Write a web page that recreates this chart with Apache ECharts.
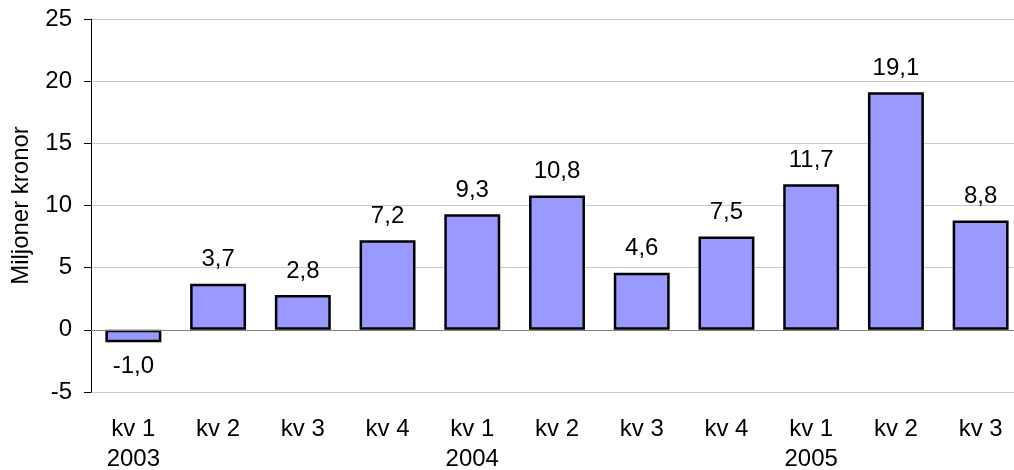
<!DOCTYPE html>
<html>
<head>
<meta charset="utf-8">
<script src="https://cdn.jsdelivr.net/npm/echarts@6/dist/echarts.min.js"></script>
<style>
html,body{margin:0;padding:0;background:#fff;}
#chart{width:1014px;height:470px;}
</style>
</head>
<body>
<div id="chart"></div>
<script>
var quarters = ['kv 1','kv 2','kv 3','kv 4','kv 1','kv 2','kv 3','kv 4','kv 1','kv 2','kv 3'];
var years = ['2003','','','','2004','','','','2005','',''];
var values = [-1.0, 3.7, 2.8, 7.2, 9.3, 10.8, 4.6, 7.5, 11.7, 19.1, 8.8];
var yTicks = [-5, 0, 5, 10, 15, 20, 25];
var yAxisTitle = 'Miljoner kronor';

var categories = quarters.map(function (q, i) { return years[i] ? q + '\n' + years[i] : q; });
var FONT = '"Liberation Sans", Arial, sans-serif';

var chart = echarts.init(document.getElementById('chart'), null, {renderer: 'canvas'});
chart.setOption({
  animation: false,
  backgroundColor: '#ffffff',
  grid: {left: 91, top: 19, width: 932, height: 373, containLabel: false, outerBoundsMode: 'none'},
  xAxis: {
    type: 'category',
    data: categories,
    position: 'bottom',
    axisLine: {show: false, onZero: false},
    axisTick: {show: false},
    splitLine: {show: false},
    axisLabel: {
      color: '#000', fontFamily: FONT, fontSize: 24, lineHeight: 30, margin: 22, interval: 0
    }
  },
  yAxis: {
    type: 'value',
    min: yTicks[0],
    max: yTicks[yTicks.length - 1],
    interval: 5,
    name: yAxisTitle,
    nameLocation: 'middle',
    nameGap: 58,
    nameTextStyle: {color: '#000', fontFamily: FONT, fontSize: 24},
    axisLine: {show: true, lineStyle: {color: '#000', width: 1}},
    axisTick: {show: true, length: 7, lineStyle: {color: '#000', width: 1}},
    splitLine: {show: true, lineStyle: {color: '#c8c8c8', width: 1}},
    axisLabel: {color: '#000', fontFamily: FONT, fontSize: 24, margin: 19}
  },
  series: [{
    type: 'bar',
    barWidth: '66%',
    data: values.map(function (v) {
      return {value: v, label: {position: v < 0 ? 'bottom' : 'top'}};
    }),
    itemStyle: {color: '#9999ff', borderColor: '#000', borderWidth: 2.5},
    label: {
      show: true,
      distance: 12,
      color: '#000', fontFamily: FONT, fontSize: 24,
      formatter: function (p) { return p.value.toFixed(1).replace('.', ','); }
    },
    markLine: {
      silent: true,
      symbol: 'none',
      label: {show: false},
      lineStyle: {color: '#808080', type: 'solid', width: 1},
      data: [{yAxis: 0}]
    }
  }]
});
</script>
</body>
</html>
